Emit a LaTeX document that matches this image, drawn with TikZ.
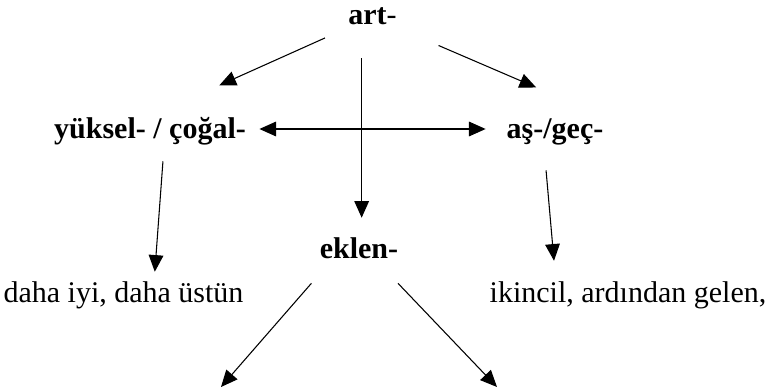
\documentclass[tikz,border=0pt]{standalone}
\usepackage{fontspec}
\setmainfont{Liberation Serif}
\usetikzlibrary{arrows.meta}

\tikzset{
  >={Triangle[length=12.5pt,width=11pt]},
  word/.style={inner sep=0pt, anchor=base, text height=16pt, text depth=2.5pt,
    font=\fontsize{22.5}{27}\selectfont},
  root/.style={word, font=\fontsize{22.5}{27}\selectfont\bfseries},
  arr/.style={->, line width=0.8pt},
}

\begin{document}
\begin{tikzpicture}[x=0.75pt, y=-0.75pt]
		% Frame
		\useasboundingbox (0,0) rectangle (769,389);

		% Roots
		\node[word] (art) at (372.5,24) {\textbf{art}-};
		\node[root] (yuksel) at (150,138) {yüksel- / çoğal-};
		\node[root] (as) at (555,138) {aş-/geç-};
		\node[root] (eklen) at (359,258) {eklen-};

		% Meanings
		\node[word] (daha) at (123.5,302) {daha iyi, daha üstün};
		\node[word] (ikincil) at (628,302) {ikincil, ardından gelen,};
		\coordinate (lowL) at (221,387);
		\coordinate (lowR) at (497,387);

		% Arrows from art-
		\draw[arr, shorten <=19pt, shorten >=57pt] (art.south west) -- (yuksel.north);
		\draw[arr, shorten <=34pt, shorten >=55pt] (art.south east) -- (as.north east);
		\draw[arr, shorten <=23pt, shorten >=14pt] ([xshift=2pt]art.south -| eklen.north) -- ([xshift=2pt]eklen.north);
		\draw[<->, line width=0.8pt, shorten <=10pt, shorten >=15.6pt] (yuksel.east) -- (as.west);

		% Arrows to meanings
		\draw[arr, shorten <=14.8pt, shorten >=6.5pt] ([xshift=10.8pt]yuksel.south) -- ([xshift=23pt]daha.north);
		\draw[arr, shorten <=21.6pt, shorten >=14.8pt] ([xshift=-8.6pt]as.south) -- ([xshift=-54.2pt]ikincil.north);
		\draw[arr, shorten <=21.6pt] ([xshift=-21.5pt]eklen.south) -- (lowL);
		\draw[arr, shorten <=22.5pt] ([xshift=13.7pt]eklen.south) -- (lowR);
	\end{tikzpicture}
\end{document}
